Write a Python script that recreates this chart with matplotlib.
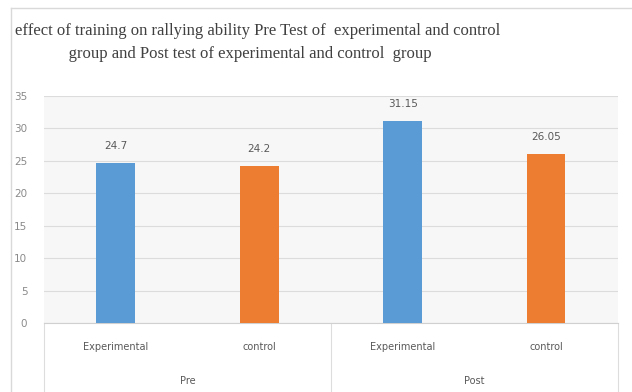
import matplotlib.pyplot as plt
import matplotlib.transforms as mtransforms

groups = ['Pre', 'Post']
categories = ['Experimental', 'control', 'Experimental', 'control']
values = [24.7, 24.2, 31.15, 26.05]
colors = ['#5B9BD5', '#ED7D31', '#5B9BD5', '#ED7D31']
yticks = [0, 5, 10, 15, 20, 25, 30, 35]

title = ('effect of training on rallying ability Pre Test of  experimental and control\n'
         '             group and Post test of experimental and control  group')

fig = plt.figure(figsize=(6.32, 3.92), dpi=100)
ax = fig.add_axes([0.0696, 0.176, 0.908, 0.579])
ax.set_facecolor('#f7f7f7')

lab = ['DejaVu Sans']
x = list(range(len(values)))
bars = ax.bar(x, values, width=0.27, color=colors, zorder=3)
for b, v in zip(bars, values):
    ax.text(b.get_x() + b.get_width() / 2, v + 1.8, f'{v:g}', ha='center', va='bottom',
            fontsize=7.5, color='#595959', family=lab)

ax.set_xlim(-0.5, 3.5)
ax.set_ylim(0, 35)
ax.set_yticks(yticks)
ax.set_yticklabels([str(t) for t in yticks], family=lab, fontsize=7.5, color='#8a8a8a')
ax.yaxis.grid(True, color='#dcdcdc', linewidth=0.8, zorder=0)
ax.tick_params(axis='y', length=0, pad=12)
ax.tick_params(axis='x', length=0, pad=14)
ax.set_xticks(x)
ax.set_xticklabels(categories, family=lab, fontsize=7, color='#595959')
for s in ['top', 'right', 'left']:
    ax.spines[s].set_visible(False)
ax.spines['bottom'].set_color('#d0d0d0')

# group labels and dividers below the axis
trans = mtransforms.blended_transform_factory(ax.transData, ax.transAxes)
for i, g in enumerate(groups):
    ax.text(2 * i + 0.5, -0.255, g, transform=trans, ha='center', va='center',
            fontsize=7, color='#595959', family=lab)
for xd in [-0.5, 1.5, 3.5]:
    ax.plot([xd, xd], [0, -0.31], transform=trans, color='#dddddd', linewidth=0.8,
            clip_on=False)

# outer frame lines
fig.add_artist(plt.Line2D([0.017, 0.017], [0, 0.98], color='#d9d9d9', linewidth=1))
fig.add_artist(plt.Line2D([0.017, 1.0], [0.98, 0.98], color='#d9d9d9', linewidth=1))

fig.text(0.024, 0.892, title, ha='left', va='center', fontsize=12, color='#404040',
         family=['Liberation Serif', 'DejaVu Serif'], linespacing=1.55)

fig.savefig('out.png', dpi=100)
